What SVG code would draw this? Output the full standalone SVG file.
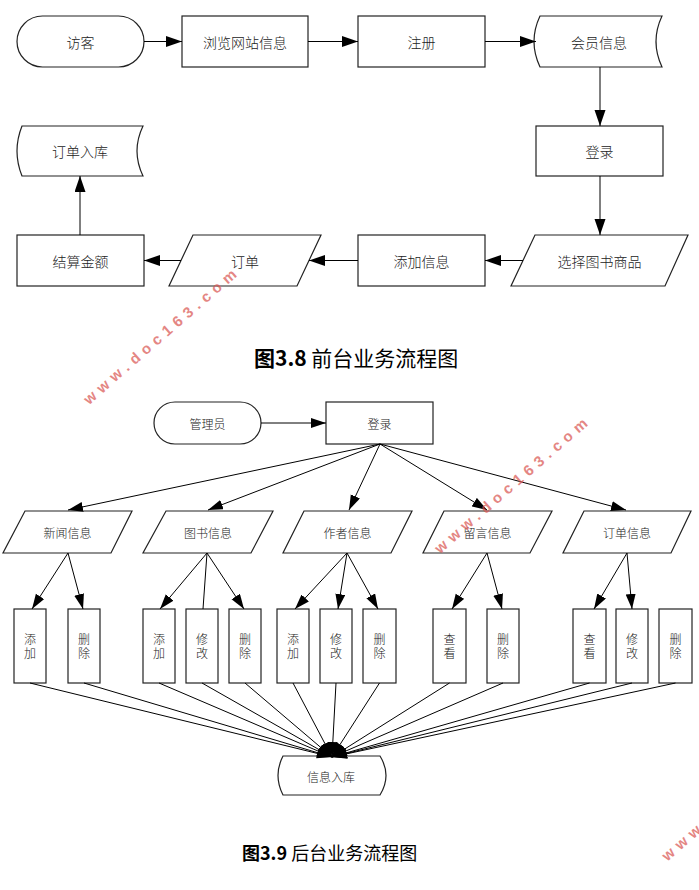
<svg xmlns="http://www.w3.org/2000/svg" width="699" height="890" viewBox="0 0 699 890">
<style>
.shape{fill:#fff;stroke:#222;stroke-width:1.2}
.t1{font-family:"Noto Sans CJK SC",sans-serif;font-size:14px;fill:#222;text-anchor:middle;dominant-baseline:central;font-weight:300}
.t2{font-family:"Noto Sans CJK SC",sans-serif;font-size:12px;fill:#222;text-anchor:middle;dominant-baseline:central;font-weight:300}
.tv{font-family:"Noto Sans CJK SC",sans-serif;font-size:12px;fill:#222;text-anchor:middle;font-weight:300;writing-mode:vertical-rl;letter-spacing:1.5px}
.ln{fill:none;stroke:#000;stroke-width:1}
.cap{font-family:"Noto Sans CJK SC",sans-serif;fill:#000}
.wm{font-family:"Liberation Sans",sans-serif;font-weight:bold;font-size:15px;fill:#d9534f;opacity:0.7;letter-spacing:5.5px}
</style>
<defs>
<marker id="a1" markerUnits="userSpaceOnUse" markerWidth="16" markerHeight="12" refX="16" refY="5.5" orient="auto"><path d="M0,0 L16,5.5 L0,11 Z" fill="#000"/></marker>
<marker id="a2" markerUnits="userSpaceOnUse" markerWidth="15" markerHeight="11" refX="15" refY="5" orient="auto"><path d="M0,0 L15,5 L0,10 Z" fill="#000"/></marker>
</defs>

<!-- Front-end flow -->
<g id="n-visitor"><rect class="shape" x="17" y="16" width="127" height="51" rx="25.5" ry="25.5"/><text class="t1" x="80.5" y="41.5">访客</text></g>
<g id="n-browse"><rect class="shape" x="182" y="16" width="126" height="51"/><text class="t1" x="245" y="41.5">浏览网站信息</text></g>
<g id="n-register"><rect class="shape" x="358" y="16" width="127" height="51"/><text class="t1" x="421.5" y="41.5">注册</text></g>
<g id="n-member"><path class="shape" d="M540,16 L662,16 Q650,41.5 662,67 L540,67 Q528,41.5 540,16 Z"/><text class="t1" x="599" y="41.5">会员信息</text></g>
<g id="n-login1"><rect class="shape" x="536" y="126" width="127" height="50"/><text class="t1" x="599.5" y="151">登录</text></g>
<g id="n-select"><path class="shape" d="M535,235 L688,235 L665,286 L511,286 Z"/><text class="t1" x="599.5" y="260.5">选择图书商品</text></g>
<g id="n-addinfo"><rect class="shape" x="358" y="235" width="127" height="51"/><text class="t1" x="421.5" y="260.5">添加信息</text></g>
<g id="n-order"><path class="shape" d="M193,235 L321,235 L297,286 L169,286 Z"/><text class="t1" x="245" y="260.5">订单</text></g>
<g id="n-settle"><rect class="shape" x="17" y="235" width="127" height="51"/><text class="t1" x="80.5" y="260.5">结算金额</text></g>
<g id="n-orderdb"><path class="shape" d="M22,126 L143,126 Q131,151 143,176 L22,176 Q12,151 22,126 Z"/><text class="t1" x="80" y="151">订单入库</text></g>

<g id="connectors-front">
<line class="ln" x1="144" y1="41.5" x2="182" y2="41.5" marker-end="url(#a1)"/>
<line class="ln" x1="308" y1="41.5" x2="358" y2="41.5" marker-end="url(#a1)"/>
<line class="ln" x1="485" y1="41.5" x2="536" y2="41.5" marker-end="url(#a1)"/>
<line class="ln" x1="600" y1="67" x2="600" y2="126" marker-end="url(#a1)"/>
<line class="ln" x1="600" y1="176" x2="600" y2="235" marker-end="url(#a1)"/>
<line class="ln" x1="523" y1="260.5" x2="485" y2="260.5" marker-end="url(#a1)"/>
<line class="ln" x1="358" y1="260.5" x2="309" y2="260.5" marker-end="url(#a1)"/>
<line class="ln" x1="181" y1="260.5" x2="144" y2="260.5" marker-end="url(#a1)"/>
<line class="ln" x1="80" y1="235" x2="80" y2="176" marker-end="url(#a1)"/>
</g>

<text class="cap" x="254" y="366" font-size="21"><tspan font-weight="bold">图3.8</tspan> 前台业务流程图</text>

<!-- Back-end flow -->
<g id="n-admin"><rect class="shape" x="154" y="402" width="107" height="42" rx="21" ry="21"/><text class="t2" x="207.5" y="423">管理员</text></g>
<g id="n-login2"><rect class="shape" x="326" y="402" width="107" height="42"/><text class="t2" x="379.5" y="423">登录</text></g>

<g id="n-news"><path class="shape" d="M25,511 L132,511 L111,553 L3,553 Z"/><text class="t2" x="67.5" y="532">新闻信息</text></g>
<g id="n-books"><path class="shape" d="M166,511 L273,511 L251,553 L143,553 Z"/><text class="t2" x="208" y="532">图书信息</text></g>
<g id="n-author"><path class="shape" d="M304,511 L412,511 L391,553 L283,553 Z"/><text class="t2" x="347.5" y="532">作者信息</text></g>
<g id="n-msg"><path class="shape" d="M444,511 L552,511 L530,553 L423,553 Z"/><text class="t2" x="487.5" y="532">留言信息</text></g>
<g id="n-orders"><path class="shape" d="M584,511 L691,511 L671,553 L563,553 Z"/><text class="t2" x="627" y="532">订单信息</text></g>

<g id="n-b1"><rect class="shape" x="14" y="609" width="32" height="74"/><text class="tv" x="30" y="647">添加</text></g>
<g id="n-b2"><rect class="shape" x="68" y="609" width="32" height="74"/><text class="tv" x="84" y="647">删除</text></g>
<g id="n-b3"><rect class="shape" x="143" y="609" width="32" height="74"/><text class="tv" x="159" y="647">添加</text></g>
<g id="n-b4"><rect class="shape" x="186" y="609" width="32" height="74"/><text class="tv" x="202" y="647">修改</text></g>
<g id="n-b5"><rect class="shape" x="229" y="609" width="32" height="74"/><text class="tv" x="245" y="647">删除</text></g>
<g id="n-b6"><rect class="shape" x="277" y="609" width="32" height="74"/><text class="tv" x="293" y="647">添加</text></g>
<g id="n-b7"><rect class="shape" x="320" y="609" width="32" height="74"/><text class="tv" x="336" y="647">修改</text></g>
<g id="n-b8"><rect class="shape" x="363" y="609" width="33" height="74"/><text class="tv" x="379.5" y="647">删除</text></g>
<g id="n-b9"><rect class="shape" x="433" y="609" width="33" height="74"/><text class="tv" x="449.5" y="647">查看</text></g>
<g id="n-b10"><rect class="shape" x="487" y="609" width="32" height="74"/><text class="tv" x="503" y="647">删除</text></g>
<g id="n-b11"><rect class="shape" x="573" y="609" width="33" height="74"/><text class="tv" x="589.5" y="647">查看</text></g>
<g id="n-b12"><rect class="shape" x="616" y="609" width="32" height="74"/><text class="tv" x="632" y="647">修改</text></g>
<g id="n-b13"><rect class="shape" x="659" y="609" width="33" height="74"/><text class="tv" x="675.5" y="647">删除</text></g>

<g id="n-infodb"><path class="shape" d="M283,756 L380,756 Q392,775.5 380,795 L283,795 Q273,775.5 283,756 Z"/><text class="t2" x="331" y="776">信息入库</text></g>

<g id="connectors-back">
<line class="ln" x1="261" y1="423" x2="326" y2="423" marker-end="url(#a2)"/>
<line class="ln" x1="380" y1="444" x2="68" y2="510" marker-end="url(#a2)"/>
<line class="ln" x1="380" y1="444" x2="208" y2="510" marker-end="url(#a2)"/>
<line class="ln" x1="380" y1="444" x2="349" y2="510" marker-end="url(#a2)"/>
<line class="ln" x1="380" y1="444" x2="487" y2="510" marker-end="url(#a2)"/>
<line class="ln" x1="380" y1="444" x2="626" y2="510" marker-end="url(#a2)"/>

<line class="ln" x1="68" y1="553" x2="32" y2="609" marker-end="url(#a2)"/>
<line class="ln" x1="68" y1="553" x2="83" y2="609" marker-end="url(#a2)"/>
<line class="ln" x1="207" y1="553" x2="160" y2="609" marker-end="url(#a2)"/>
<line class="ln" x1="207" y1="553" x2="203" y2="609"/>
<line class="ln" x1="207" y1="553" x2="244" y2="609" marker-end="url(#a2)"/>
<line class="ln" x1="347" y1="553" x2="295" y2="609" marker-end="url(#a2)"/>
<line class="ln" x1="347" y1="553" x2="338" y2="609" marker-end="url(#a2)"/>
<line class="ln" x1="347" y1="553" x2="378" y2="609" marker-end="url(#a2)"/>
<line class="ln" x1="487" y1="553" x2="452" y2="609" marker-end="url(#a2)"/>
<line class="ln" x1="487" y1="553" x2="502" y2="609" marker-end="url(#a2)"/>
<line class="ln" x1="627" y1="553" x2="594" y2="609" marker-end="url(#a2)"/>
<line class="ln" x1="627" y1="553" x2="632" y2="609" marker-end="url(#a2)"/>

<line class="ln" x1="30" y1="683" x2="332" y2="757" marker-end="url(#a2)"/>
<line class="ln" x1="84" y1="683" x2="332" y2="757" marker-end="url(#a2)"/>
<line class="ln" x1="159" y1="683" x2="332" y2="757" marker-end="url(#a2)"/>
<line class="ln" x1="202" y1="683" x2="332" y2="757" marker-end="url(#a2)"/>
<line class="ln" x1="245" y1="683" x2="332" y2="757" marker-end="url(#a2)"/>
<line class="ln" x1="293" y1="683" x2="332" y2="757" marker-end="url(#a2)"/>
<line class="ln" x1="336" y1="683" x2="332" y2="757" marker-end="url(#a2)"/>
<line class="ln" x1="379.5" y1="683" x2="332" y2="757" marker-end="url(#a2)"/>
<line class="ln" x1="449.5" y1="683" x2="332" y2="757" marker-end="url(#a2)"/>
<line class="ln" x1="503" y1="683" x2="332" y2="757" marker-end="url(#a2)"/>
<line class="ln" x1="589.5" y1="683" x2="332" y2="757" marker-end="url(#a2)"/>
<line class="ln" x1="632" y1="683" x2="332" y2="757" marker-end="url(#a2)"/>
<line class="ln" x1="675.5" y1="683" x2="332" y2="757" marker-end="url(#a2)"/>
</g>

<text class="cap" x="242" y="860" font-size="18"><tspan font-weight="bold">图3.9</tspan> 后台业务流程图</text>

<text class="wm" x="0" y="5" text-anchor="middle" transform="translate(162,335) rotate(-41)">www.doc163.com</text>
<text class="wm" x="0" y="5" text-anchor="middle" transform="translate(513,484) rotate(-41)">www.doc163.com</text>
<text class="wm" x="0" y="5" transform="translate(664,858) rotate(-41)">www.doc163.com</text>
</svg>
